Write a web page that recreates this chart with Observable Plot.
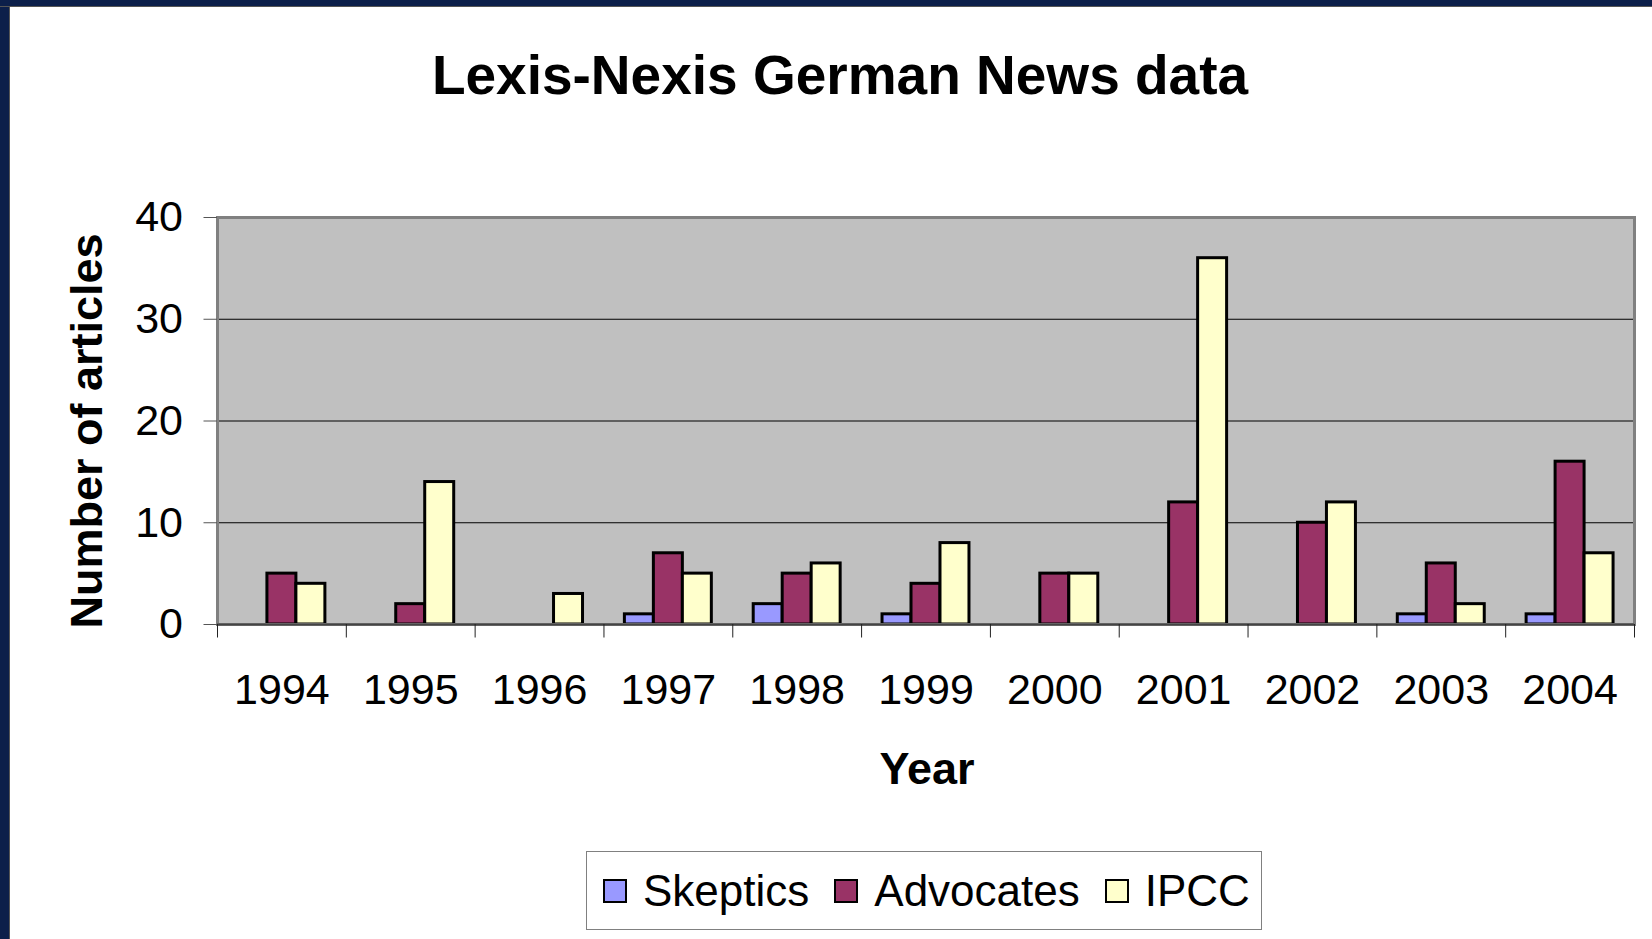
<!DOCTYPE html>
<html>
<head>
<meta charset="utf-8">
<script src="https://cdn.jsdelivr.net/npm/d3@7"></script>
<script src="https://cdn.jsdelivr.net/npm/@observablehq/plot@0.6"></script>
<style>
  html, body { margin: 0; padding: 0; background: #fff; overflow: hidden; }
  #wrap { position: relative; width: 1652px; height: 939px; font-family: "Liberation Sans", Arial, sans-serif; }
  #navyLeft { position: absolute; left: 0; top: 0; width: 9px; height: 939px; background: #0c1f4a; border-right: 1px solid #555; z-index: 2; }
  #navyTop { position: absolute; left: 0; top: 0; width: 1652px; height: 6px; background: #0c1f4a; border-bottom: 1px solid #555; z-index: 2; }
  #chart { position: absolute; left: 0; top: 0; }
  #legend { position: absolute; left: 586px; top: 851px; width: 676px; height: 79px; box-sizing: border-box;
            border: 1px solid #808080; display: flex; align-items: center; padding-left: 16px;
            font-family: "Liberation Sans", Arial, sans-serif; font-size: 44px; color: #000; }
  .sw { width: 24px; height: 24px; box-sizing: border-box; border: 2.5px solid #000; margin-right: 16px; flex: none; }
  .lab { margin-right: 25px; white-space: nowrap; line-height: 1; }
</style>
</head>
<body>
<div id="wrap">
  <div id="navyLeft"></div>
  <div id="navyTop"></div>
  <div id="chart"></div>
  <div id="legend"></div>
</div>
<script>
// ---- data ----
const years = [1994, 1995, 1996, 1997, 1998, 1999, 2000, 2001, 2002, 2003, 2004];
const series = ["Skeptics", "Advocates", "IPCC"];
const skeptics  = [0, 0, 0, 1, 2, 1, 0, 0, 0, 1, 1];
const advocates = [5, 2, 0, 7, 5, 4, 5, 12, 10, 6, 16];
const ipcc      = [4, 14, 3, 5, 6, 8, 5, 36, 12, 2, 7];
const colors = ["#9999FF", "#993366", "#FFFFCC"];
const yTicks = [0, 10, 20, 30, 40];
const title = "Lexis-Nexis German News data";
const xTitle = "Year";
const yTitle = "Number of articles";

const values = [skeptics, advocates, ipcc];
const table = years.flatMap((year, i) =>
  series.map((s, k) => ({year, series: s, k, value: values[k][i]}))
).filter(d => d.value > 0);

const barW = 0.225; // bar width as a fraction of a year band
const font = '"Liberation Sans", Arial, sans-serif';

const W = 1652, H = 845;
const chart = Plot.plot({
  width: W,
  height: H,
  marginLeft: 217,
  marginRight: 18,
  marginTop: 217,
  marginBottom: H - 624,
  style: {fontFamily: font, color: "#000", background: "transparent", overflow: "visible"},
  x: {domain: [years[0] - 0.5, years[years.length - 1] + 0.5]},
  y: {domain: [0, 40]},
  color: {domain: series, range: colors},
  marks: [
    Plot.frame({fill: "#c0c0c0", stroke: "none"}),
    Plot.gridY({ticks: [10, 20, 30], stroke: "#000", strokeOpacity: 1, strokeWidth: 1}),
    Plot.rect(table, {
      x1: d => d.year + (d.k - 1.5) * barW,
      x2: d => d.year + (d.k - 0.5) * barW,
      y1: 0,
      y2: "value",
      fill: "series",
      stroke: "#000",
      strokeWidth: 3
    }),
    Plot.frame({stroke: "#808080", strokeWidth: 3}),
    Plot.ruleY([0], {stroke: "#444", strokeWidth: 2}),
    Plot.axisY({ticks: yTicks, tickSize: 13.5, tickPadding: 21, fontSize: 43, stroke: "#555", label: null, tickFormat: d => String(d)}),
    Plot.axisX({ticks: d3.range(years[0] - 0.5, years[years.length - 1] + 1, 1), tickSize: 13.5, tickFormat: () => "", stroke: "#222", label: null}),
    Plot.axisX({ticks: years, tickSize: 0, tickPadding: 49, fontSize: 43, tickFormat: d => String(d), label: null}),
    Plot.text([title], {frameAnchor: "top", lineAnchor: "bottom", dx: -86, dy: 93 - 217, fontSize: 55, fontWeight: "bold", fill: "#000"}),
    Plot.text([xTitle], {frameAnchor: "bottom", lineAnchor: "bottom", dx: 1, dy: 783 - 624, fontSize: 45, fontWeight: "bold", fill: "#000"}),
    Plot.text([yTitle], {frameAnchor: "left", textAnchor: "middle", lineAnchor: "bottom", rotate: -90, dx: 101 - 217, dy: 10, fontSize: 45, fontWeight: "bold", fill: "#000"})
  ]
});
document.getElementById("chart").appendChild(chart);

// legend
const legend = document.getElementById("legend");
series.forEach((s, k) => {
  const sw = document.createElement("span");
  sw.className = "sw";
  sw.style.background = colors[k];
  const lab = document.createElement("span");
  lab.className = "lab";
  lab.textContent = s;
  legend.appendChild(sw);
  legend.appendChild(lab);
});
</script>
</body>
</html>
